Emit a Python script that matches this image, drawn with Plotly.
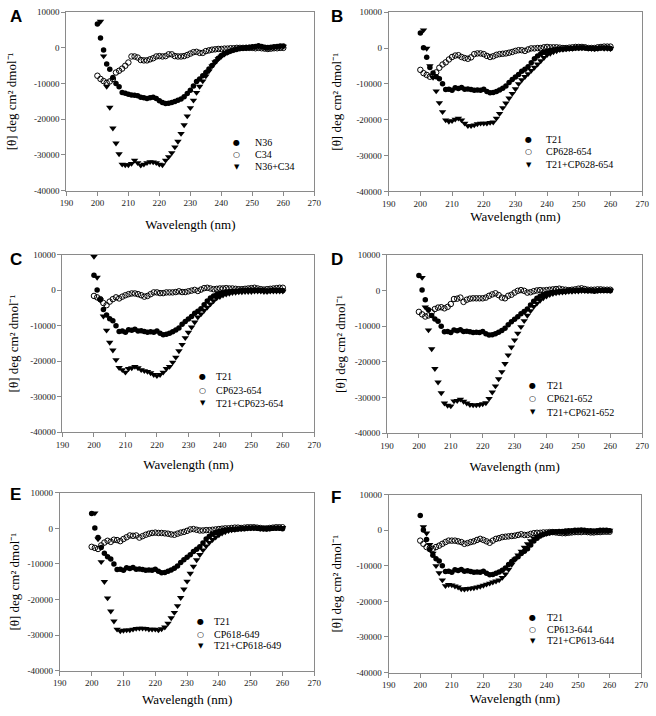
import plotly.graph_objects as go

# ---------------- data ----------------
wavelength = list(range(200, 261))

x_ticks = [190, 200, 210, 220, 230, 240, 250, 260, 270]
x_tick_labels = ["190", "200", "210", "220", "230", "240", "250", "260", "270"]
y_ticks = [-40000, -30000, -20000, -10000, 0, 10000]
y_tick_labels = ["-40000", "-30000", "-20000", "-10000", "0", "10000"]

panel_letters = ["A", "B", "C", "D", "E", "F"]
x_title = "Wavelength (nm)"
y_title = "[θ] deg cm² dmol⁻¹"

n36 = [6700, 2800, -600, -4500, -6000, -8300, -10000, -10900, -12500, -12700,
       -13000, -13200, -13300, -13400, -13800, -14000, -14200, -14000, -13800, -14200,
       -14800, -15300, -15600, -15500, -15300, -15000, -14700, -14300, -13700, -12800,
       -11900, -10700, -9400, -8700, -7800, -6900, -5900, -4900, -3900, -2900,
       -2100, -1600, -1200, -900, -600, -400, -200, 0, 100, 200,
       300, 400, 600, 400, 200, 100, 200, 300, 400, 500, 500]
c34 = [-7800, -8700, -9300, -9800, -9400, -8700, -6900, -6400, -5800, -5000,
       -4100, -2400, -2400, -2700, -3400, -3500, -3500, -3200, -2900, -2400,
       -2300, -2400, -2300, -1800, -1800, -2300, -2400, -2400, -2300, -2000,
       -1600, -1200, -1100, -1400, -1400, -900, -700, -500, -400, -300,
       -300, -200, -200, -100, -100, 0, 0, 0, 0, 0,
       0, -100, 0, -100, -200, -300, -200, -100, -100, 0, 0]
n36_c34 = [None, 7400, -2300, -10800, -16700, -22500, -26700, -29700, -32600, -32800,
           -32800, -32400, -31500, -32200, -32900, -32600, -32200, -31900, -32000, -32200,
           -32600, -32800, -31500, -30500, -29400, -27800, -26200, -24000, -21600, -19100,
           -16800, -14700, -12500, -10800, -9300, -7900, -6500, -5100, -4000, -3100,
           -2400, -1800, -1300, -900, -600, -400, -200, -100, 0, 100,
           200, 300, 400, 300, 100, 0, 100, 200, 300, 400, 400]

t21 = [4200, 100, -2600, -5400, -7000, -8000, -8600, -10000, -11600, -11500,
       -11800, -11100, -11300, -11000, -11500, -11400, -11600, -11800, -11700, -11800,
       -11500, -12100, -12500, -12400, -12100, -11700, -11200, -10600, -9600, -8800,
       -8100, -7400, -6500, -5900, -5200, -4100, -3000, -2200, -1600, -1200,
       -900, -700, -500, -400, -300, -300, -200, -100, -100, 0,
       0, 100, 0, -100, -100, -200, -100, 0, 0, 0, -100]

cp628_654 = [-6100, -7000, -7500, -8000, -7800, -6800, -5500, -4600, -4000, -3200,
             -2500, -2100, -2000, -2500, -2800, -3000, -2600, -1700, -1500, -1500,
             -1700, -2200, -2500, -2300, -1900, -1700, -1600, -1500, -1300, -1100,
             -800, -600, -600, -800, -400, -100, -100, 0, 0, 200,
             300, 200, 200, 200, 100, 0, 0, 100, 200, 300,
             300, 300, 200, 0, 0, 0, 200, 300, 400, 400, 400]
t21_cp628_654 = [None, 5000, -100, -5000, -8200, -12000, -15300, -17800, -20100, -20500,
                 -20300, -19900, -19600, -20100, -21000, -21700, -21700, -21500, -21200, -21000,
                 -21000, -21000, -20800, -20700, -19600, -18300, -16700, -15400, -14000, -12700,
                 -11400, -10000, -8900, -8000, -7200, -6300, -5400, -4500, -3600, -2700,
                 -1900, -1500, -1100, -800, -500, -400, -300, -200, -100, 0,
                 0, 0, 100, 0, -100, -200, -100, 0, -100, -100, -200]

cp623_654 = [-1600, -2000, -2500, -3600, -4200, -3200, -2500, -2000, -2300, -1800,
             -1400, -1100, -900, -900, -1100, -1400, -1800, -1600, -1100, -600,
             -600, -800, -800, -600, -600, -600, -500, -300, -500, -500,
             -300, -100, 100, -200, 200, 600, 700, 500, 300, 400,
             500, 500, 600, 500, 500, 400, 300, 300, 400, 500,
             600, 700, 500, 300, 200, 300, 400, 500, 600, 700, 700]
t21_cp623_654 = [9500, 3600, -2800, -7300, -11300, -14700, -16900, -19600, -21800, -22400,
                 -23100, -22100, -21900, -21500, -21900, -22400, -22700, -22900, -23300, -23800,
                 -24100, -23800, -23100, -22100, -21500, -20300, -18900, -17100, -15300, -13400,
                 -11900, -10400, -9000, -7600, -6700, -5700, -4800, -3900, -3000, -2200,
                 -1800, -1400, -1100, -900, -700, -600, -500, -500, -400, -400,
                 -400, -300, -300, -300, -400, -400, -300, -300, -300, -300, -300]

cp621_652 = [-6000, -6700, -7300, -7000, -6100, -5200, -4800, -4700, -5000, -4600,
             -3800, -2400, -2300, -2000, -3200, -2600, -2300, -2200, -2200, -2200,
             -2200, -2000, -1500, -1100, -800, -1300, -2000, -2200, -1500, -1200,
             -600, -100, 100, -100, -600, -500, -200, 0, 100, 0,
             100, 200, 300, 400, 500, 300, 200, 100, 200, 300,
             500, 600, 400, 200, 200, 200, 300, 300, 200, 200, 200]
t21_cp621_652 = [None, 3600, -4700, -11100, -16400, -21900, -25700, -28700, -31600, -32200,
                 -32400, -31000, -30900, -30500, -31100, -31600, -32000, -32100, -32100, -32000,
                 -31800, -31500, -30300, -28500, -26800, -24800, -22800, -20500, -18100, -15900,
                 -13900, -12000, -10200, -8500, -7000, -5700, -4500, -3600, -2800, -2100,
                 -1600, -1200, -900, -700, -600, -500, -400, -300, -300, -200,
                 -200, -100, -100, -100, 0, 0, 0, 0, 0, 0, 0]

cp618_649 = [-5200, -5500, -5800, -4800, -4000, -3500, -3800, -3200, -3300, -3600,
             -3000, -2500, -2000, -2100, -2000, -2600, -2200, -1800, -1500, -1300,
             -1200, -1300, -1300, -1400, -1500, -1700, -1800, -1500, -1200, -1000,
             -700, -300, -200, -400, -600, -600, -500, -500, -400, -300,
             -200, -100, 0, 0, 100, 200, 200, 100, 200, 300,
             300, 300, 200, 100, 0, 0, 100, 200, 300, 300, 300]
t21_cp618_649 = [None, 4300, -3000, -9400, -15000, -19600, -23300, -26100, -28400, -28900,
                 -28700, -28600, -28600, -28400, -28200, -28100, -28100, -28200, -28400, -28400,
                 -28400, -28600, -28300, -27800, -26700, -25200, -23700, -21800, -19500, -17100,
                 -14900, -12700, -10700, -8900, -7400, -6100, -5000, -4000, -3200, -2500,
                 -1900, -1400, -1000, -700, -500, -300, -200, -100, 0, 0,
                 100, 100, 100, 0, 0, 100, 100, 200, 200, 200, 200]

cp613_644 = [-2900, -3800, -4700, -5000, -5200, -4700, -4300, -3800, -3300, -2900,
             -2900, -2900, -3100, -3300, -3800, -3600, -3300, -3100, -2700, -2400,
             -2700, -3100, -3500, -2900, -2400, -2200, -1900, -1800, -1700, -1600,
             -1500, -1300, -1100, -1300, -1300, -1000, -800, -700, -700, -600,
             -600, -500, -500, -600, -700, -800, -800, -700, -600, -500,
             -500, -500, -400, -500, -600, -600, -500, -500, -400, -400, -400]
t21_cp613_644 = [None, 1000, -800, -4000, -6500, -10000, -12000, -14000, -15600, -15300,
                 -15400, -15700, -16000, -16500, -16600, -16400, -16300, -16200, -16000, -15800,
                 -15500, -15200, -14900, -14600, -14300, -14000, -13300, -12300, -11000, -9600,
                 -8200, -7000, -5900, -4800, -3800, -3000, -2300, -1800, -1400, -1100,
                 -900, -700, -500, -400, -400, -500, -600, -500, -400, -300,
                 -200, -100, -100, -200, -300, -400, -300, -200, -100, -100, 0]

panels = [
    [("N36", n36), ("C34", c34), ("N36+C34", n36_c34)],
    [("T21", t21), ("CP628-654", cp628_654), ("T21+CP628-654", t21_cp628_654)],
    [("T21", t21), ("CP623-654", cp623_654), ("T21+CP623-654", t21_cp623_654)],
    [("T21", t21), ("CP621-652", cp621_652), ("T21+CP621-652", t21_cp621_652)],
    [("T21", t21), ("CP618-649", cp618_649), ("T21+CP618-649", t21_cp618_649)],
    [("T21", t21), ("CP613-644", cp613_644), ("T21+CP613-644", t21_cp613_644)],
]

# ---------------- layout (pixels) ----------------
W, H = 656, 716
# plot area boxes: x0, x1, y0(top), y1(bottom)
boxes = [
    (60.7, 314.0, 7.3, 188.3),
    (390.0, 649.0, 7.3, 189.0),
    (56.7, 314.0, 253.3, 433.3),
    (388.3, 649.0, 253.3, 434.3),
    (54.0, 314.0, 494.7, 675.0),
    (390.0, 648.0, 496.7, 677.0),
]
letter_pos = [(1, 0), (329, 0), (1, 246), (329, 246), (1, 485), (329, 488)]
xtitle_standoff = [12, 3, 10, 11, 7, 4]
ytitle_standoff = [14, 11, 8, 6, 4, 11]
legend_pos = [  # symbol x, text x, row ys
    (235, 251, [139, 152, 164]),
    (533, 549, [136, 149, 162]),
    (200, 212, [377, 391, 404]),
    (537, 550, [386, 399, 413]),
    (198, 209, [625, 638, 650]),
    (537, 550, [621, 633, 645]),
]

SERIF = "Liberation Serif"
FRAME = "#8a8a8a"

styles = [
    dict(symbol="circle", size=5.5, color="black"),
    dict(symbol="circle-open", size=5.5, color="black", line=dict(width=1, color="black")),
    dict(symbol="triangle-down", size=6.5, color="black"),
]
legend_glyphs = ["●", "○", "▼"]
glyph_sizes = [8, 8, 7]

fig = go.Figure()
layout = dict(
    width=W, height=H,
    margin=dict(l=0, r=0, t=0, b=0),
    paper_bgcolor="white", plot_bgcolor="white",
    showlegend=False,
    font=dict(family=SERIF, color="black"),
)
annotations = []

def px(x):
    return x / W

def py(y):
    return 1 - y / H

for i, series in enumerate(panels):
    n = i + 1
    xa = "x" if n == 1 else f"x{n}"
    ya = "y" if n == 1 else f"y{n}"
    x0, x1, y0, y1 = boxes[i]
    for j, (name, vals) in enumerate(series):
        fig.add_trace(go.Scatter(
            x=wavelength, y=vals, mode="markers", name=name,
            marker=styles[j], xaxis=xa, yaxis=ya, showlegend=False,
        ))
    axis_common = dict(
        showline=True, mirror=True, linecolor=FRAME, linewidth=1,
        ticks="outside", ticklen=4, tickcolor=FRAME, tickwidth=1,
        showgrid=False, zeroline=False,
        tickfont=dict(family=SERIF, size=9, color="#222"),
    )
    layout["xaxis" if n == 1 else f"xaxis{n}"] = dict(
        domain=[px(x0), px(x1)], anchor=ya, range=[190, 270],
        tickmode="array", tickvals=x_ticks, ticktext=x_tick_labels,
        title=dict(text=x_title, standoff=xtitle_standoff[i],
                   font=dict(family=SERIF, size=13, color="black")),
        **axis_common)
    layout["yaxis" if n == 1 else f"yaxis{n}"] = dict(
        domain=[py(y1), py(y0)], anchor=xa, range=[-40000, 10000],
        tickmode="array", tickvals=y_ticks, ticktext=y_tick_labels,
        title=dict(text=y_title, standoff=ytitle_standoff[i],
                   font=dict(family=SERIF, size=13, color="black")),
        **axis_common)

    # panel letter
    lx, ly = letter_pos[i]
    annotations.append(dict(
        text=panel_letters[i], x=px(lx), y=py(ly), xref="paper", yref="paper",
        xanchor="left", yanchor="top", showarrow=False,
        font=dict(family="Liberation Sans", size=17, color="black", weight="bold")))
    # legend
    sx, tx, rows = legend_pos[i]
    for j, (name, _) in enumerate(series):
        annotations.append(dict(
            text=legend_glyphs[j], x=px(sx), y=py(rows[j]), xref="paper", yref="paper",
            xanchor="center", yanchor="middle", showarrow=False,
            font=dict(family="DejaVu Sans", size=glyph_sizes[j], color="black")))
        annotations.append(dict(
            text=name, x=px(tx), y=py(rows[j]), xref="paper", yref="paper",
            xanchor="left", yanchor="middle", showarrow=False,
            font=dict(family=SERIF, size=10, color="black")))

layout["annotations"] = annotations
fig.update_layout(**layout)

fig.write_html(
    "out.html",
    config={"displayModeBar": False},
    post_script="document.body.style.margin='0';document.body.style.overflow='hidden';",
)
